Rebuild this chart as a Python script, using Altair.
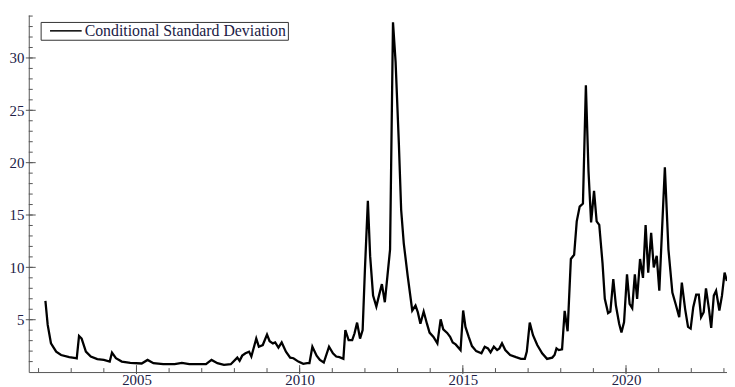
import altair as alt
import pandas as pd

series_name = "Conditional Standard Deviation"

years = [
    2002.21, 2002.28, 2002.38, 2002.54, 2002.69, 2002.94, 2003.14, 2003.17, 2003.24, 2003.32,
    2003.45, 2003.60, 2003.80, 2004.00, 2004.18, 2004.25, 2004.37, 2004.55, 2004.81, 2005.16,
    2005.34, 2005.52, 2005.82, 2006.17, 2006.39, 2006.62, 2007.13, 2007.30, 2007.48, 2007.68,
    2007.89, 2008.09, 2008.16, 2008.24, 2008.34, 2008.45, 2008.52, 2008.67, 2008.75, 2008.87,
    2009.00, 2009.08, 2009.18, 2009.25, 2009.35, 2009.45, 2009.58, 2009.71, 2009.81, 2009.96,
    2010.11, 2010.23, 2010.30, 2010.39, 2010.52, 2010.62, 2010.74, 2010.90, 2011.02, 2011.12,
    2011.22, 2011.34, 2011.40, 2011.50, 2011.61, 2011.68, 2011.76, 2011.85, 2011.93, 2012.00,
    2012.09, 2012.16, 2012.25, 2012.35, 2012.43, 2012.52, 2012.61, 2012.69, 2012.77, 2012.86,
    2012.94, 2013.04, 2013.11, 2013.19, 2013.31, 2013.45, 2013.55, 2013.62, 2013.70, 2013.80,
    2013.90, 2013.98, 2014.10, 2014.22, 2014.32, 2014.40, 2014.52, 2014.61, 2014.69, 2014.78,
    2014.93, 2015.01, 2015.08, 2015.18, 2015.28, 2015.41, 2015.57, 2015.67, 2015.77, 2015.85,
    2015.95, 2016.05, 2016.12, 2016.20, 2016.30, 2016.45, 2016.63, 2016.78, 2016.90, 2016.96,
    2017.05, 2017.15, 2017.28, 2017.43, 2017.58, 2017.74, 2017.81, 2017.87, 2017.94, 2018.04,
    2018.12, 2018.21, 2018.31, 2018.41, 2018.49, 2018.58, 2018.68, 2018.77, 2018.85, 2018.93,
    2019.02, 2019.10, 2019.18, 2019.28, 2019.35, 2019.45, 2019.52, 2019.61, 2019.69, 2019.79,
    2019.86, 2019.94, 2020.03, 2020.11, 2020.19, 2020.27, 2020.34, 2020.43, 2020.52, 2020.60,
    2020.68, 2020.77, 2020.85, 2020.94, 2021.02, 2021.19, 2021.30, 2021.42, 2021.52, 2021.63,
    2021.71, 2021.81, 2021.90, 2021.98, 2022.06, 2022.15, 2022.23, 2022.30, 2022.38, 2022.45,
    2022.54, 2022.61, 2022.69, 2022.76, 2022.86, 2022.94, 2023.02, 2023.09,
]

values = [
    6.80, 4.50, 2.75, 1.95, 1.63, 1.42, 1.32, 1.30, 3.45, 3.20,
    1.95, 1.48, 1.23, 1.16, 1.00, 1.86, 1.32, 1.00, 0.88, 0.82,
    1.16, 0.85, 0.75, 0.75, 0.88, 0.75, 0.75, 1.16, 0.85, 0.69,
    0.75, 1.38, 1.07, 1.57, 1.79, 1.95, 1.48, 3.20, 2.42, 2.58,
    3.58, 2.95, 2.74, 2.83, 2.33, 2.83, 1.95, 1.38, 1.32, 1.00,
    0.78, 0.85, 0.85, 2.42, 1.57, 1.16, 0.91, 2.42, 1.79, 1.48,
    1.42, 1.26, 4.00, 3.05, 3.05, 3.68, 4.72, 3.20, 4.00, 9.80,
    16.35, 11.07, 7.30, 6.26, 7.30, 8.40, 6.67, 9.18, 11.70, 33.40,
    29.60, 21.80, 15.50, 12.30, 9.18, 5.88, 6.35, 5.72, 4.62, 5.78,
    4.62, 3.77, 3.36, 2.74, 5.03, 4.08, 3.74, 3.36, 2.83, 2.64,
    2.10, 5.88, 4.31, 3.36, 2.48, 2.00, 1.79, 2.42, 2.26, 1.89,
    2.42, 2.10, 2.26, 2.74, 2.10, 1.63, 1.42, 1.26, 1.26, 1.95,
    4.72, 3.52, 2.58, 1.79, 1.26, 1.38, 1.63, 2.26, 2.10, 2.17,
    5.85, 3.90, 10.80, 11.20, 14.40, 15.80, 16.10, 27.40, 19.20, 14.30,
    17.30, 14.40, 14.05, 10.40, 7.00, 5.63, 5.78, 8.87, 6.35, 4.62,
    3.77, 4.78, 9.34, 6.50, 6.10, 9.34, 6.98, 10.80, 9.00, 14.05,
    9.50, 13.30, 10.00, 11.10, 7.77, 19.55, 11.70, 7.60, 6.50, 5.25,
    8.55, 6.04, 4.31, 4.15, 6.20, 7.39, 7.39, 5.25, 5.72, 7.99,
    6.04, 4.21, 7.30, 7.77, 5.88, 7.30, 9.50, 8.70,
]

x_label_ticks = [2005, 2010, 2015, 2020]
x_minor_ticks = list(range(2002, 2024))
y_label_ticks = [5, 10, 15, 20, 25, 30]
y_minor_ticks = list(range(1, 35))

W, H = 706, 361
X_DOMAIN = [2001.7, 2023.094]
Y_DOMAIN = [0, 34.1]

FONT = "Liberation Serif"
LABEL_COLOR = "#202045"
AXIS_COLOR = "#555555"

df = pd.DataFrame({"year": years, "value": values, "series": series_name})

xscale = alt.Scale(domain=X_DOMAIN, nice=False, zero=False)
yscale = alt.Scale(domain=Y_DOMAIN, nice=False, zero=False)

x_axis = alt.Axis(values=x_label_ticks, format="d", ticks=False, grid=False,
                  domainColor=AXIS_COLOR, domainWidth=1, labelFont=FONT,
                  labelFontSize=15, labelColor=LABEL_COLOR, labelPadding=1,
                  title=None, orient="bottom")
y_axis = alt.Axis(values=y_label_ticks, format="d", ticks=False, grid=False,
                  domainColor=AXIS_COLOR, domainWidth=1, labelFont=FONT,
                  labelFontSize=15, labelColor=LABEL_COLOR, labelPadding=5,
                  title=None, orient="left")

line = alt.Chart(df).mark_line(strokeWidth=2.3, clip=True).encode(
    x=alt.X("year:Q", scale=xscale, axis=x_axis),
    y=alt.Y("value:Q", scale=yscale, axis=y_axis),
    color=alt.Color(
        "series:N", scale=alt.Scale(range=["black"]),
        legend=alt.Legend(
            orient="none", legendX=12, legendY=7, title=None,
            strokeColor="#333333", fillColor="white", padding=1,
            symbolType="M-4,0H4", symbolSize=64, symbolStrokeWidth=1.5,
            symbolOffset=16.5, labelOffset=11, labelLimit=0,
            labelFont=FONT, labelFontSize=16, labelColor=LABEL_COLOR,
        ),
    ),
)

xt_minor = alt.Chart(pd.DataFrame({"year": x_minor_ticks})).mark_rule(
    color=AXIS_COLOR, strokeWidth=1
).encode(x=alt.X("year:Q", scale=xscale, axis=x_axis), y=alt.value(H), y2=alt.value(H - 4))

xt_major = alt.Chart(pd.DataFrame({"year": x_label_ticks})).mark_rule(
    color=AXIS_COLOR, strokeWidth=1
).encode(x=alt.X("year:Q", scale=xscale, axis=x_axis), y=alt.value(H + 2), y2=alt.value(H - 7))

yt_minor = alt.Chart(pd.DataFrame({"value": y_minor_ticks})).mark_rule(
    color=AXIS_COLOR, strokeWidth=1
).encode(y=alt.Y("value:Q", scale=yscale, axis=y_axis), x=alt.value(0), x2=alt.value(4))

yt_major = alt.Chart(pd.DataFrame({"value": y_label_ticks})).mark_rule(
    color=AXIS_COLOR, strokeWidth=1
).encode(y=alt.Y("value:Q", scale=yscale, axis=y_axis), x=alt.value(-3), x2=alt.value(7))

chart = alt.layer(line, xt_minor, xt_major, yt_minor, yt_major).properties(
    width=W, height=H,
    autosize=alt.AutoSizeParams(type="none"),
    padding={"left": 21, "top": 5, "right": 0, "bottom": 13},
).configure(background="white").configure_view(stroke=None)

chart.save("out.html", embed_options={"renderer": "svg", "actions": False})
